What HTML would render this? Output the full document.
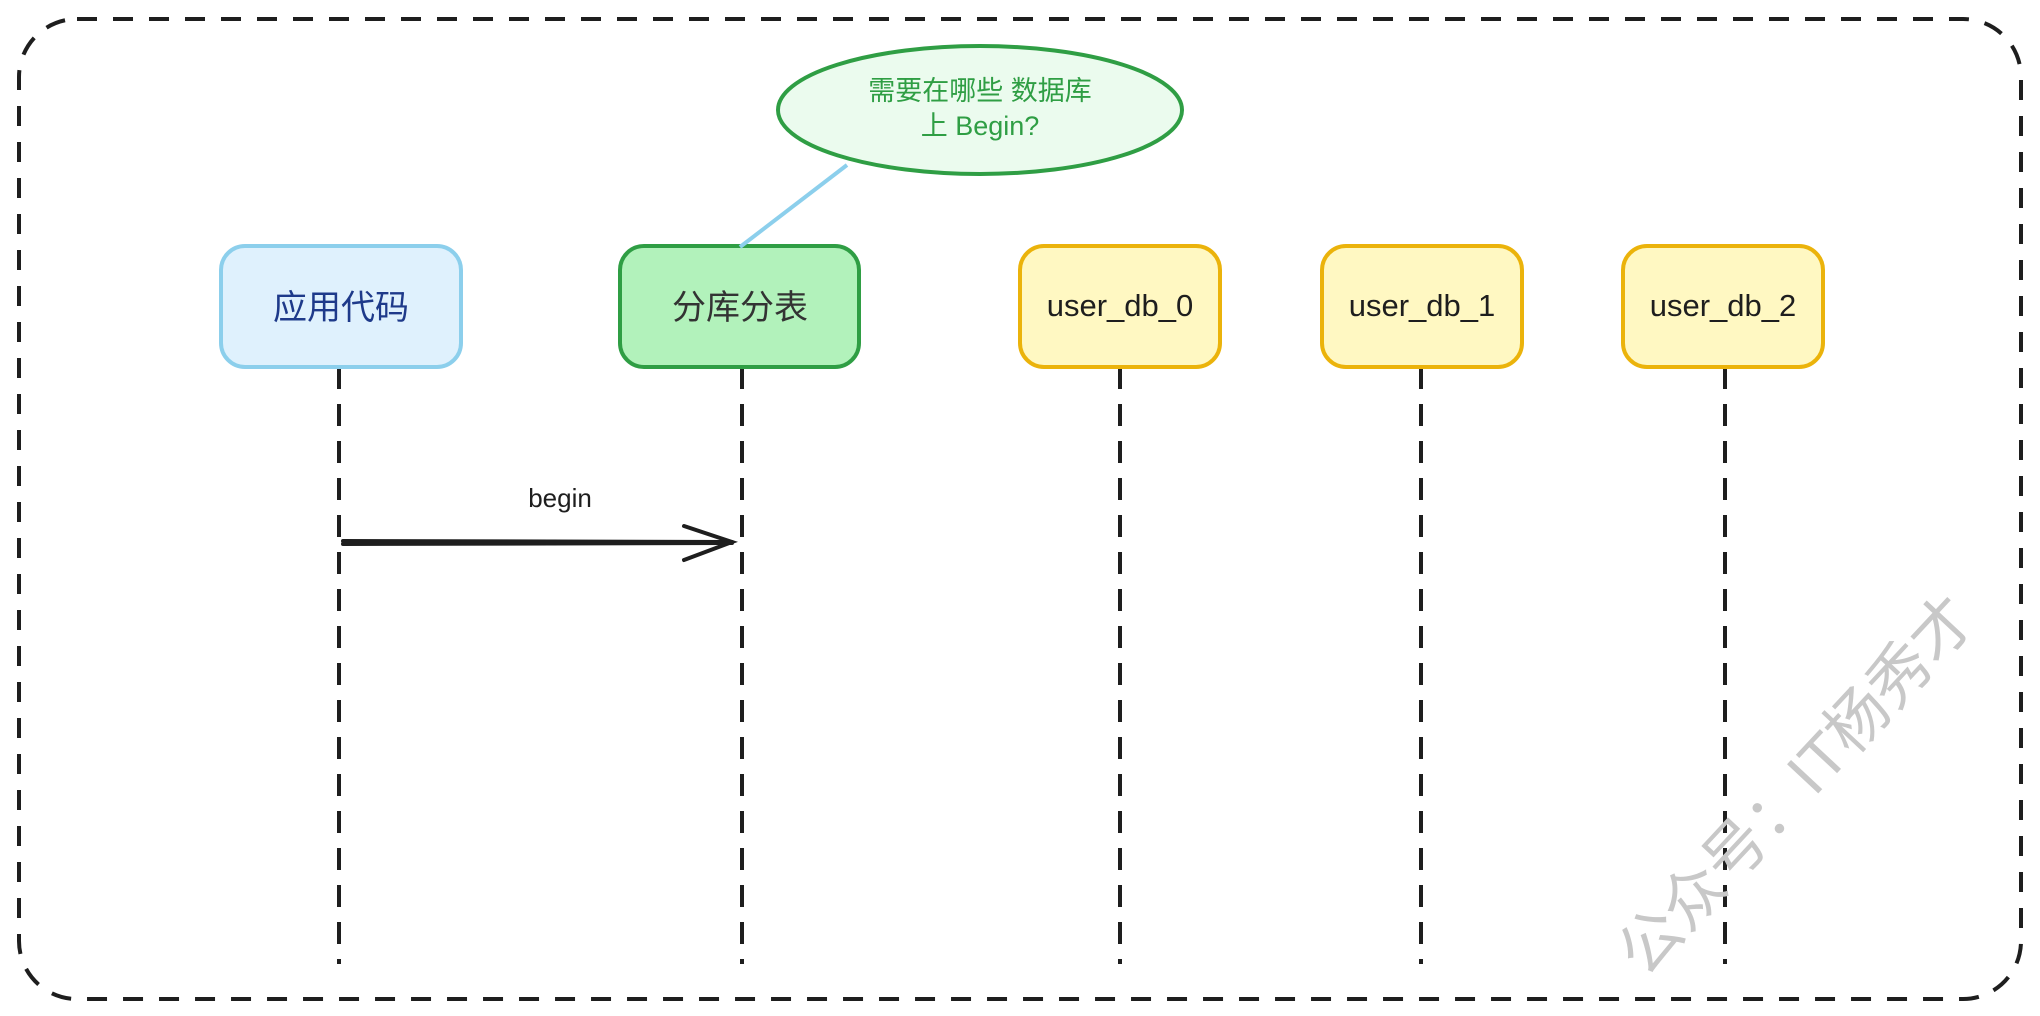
<!DOCTYPE html>
<html><head><meta charset="utf-8"><style>
html,body{margin:0;padding:0;background:#fff;}
svg{display:block;}
text{font-family:"Liberation Sans","Noto Sans CJK SC",sans-serif;}
</style></head><body>
<svg width="2040" height="1016" viewBox="0 0 2040 1016" xmlns="http://www.w3.org/2000/svg">
<rect x="19" y="19" width="2002" height="980" rx="58" fill="none" stroke="#1e1e1e" stroke-width="4" stroke-dasharray="20 16"/>
<g stroke="#1e1e1e" stroke-width="4" stroke-dasharray="22 15" fill="none">
<line x1="339" y1="367" x2="339" y2="964"/>
<line x1="742" y1="367" x2="742" y2="964"/>
<line x1="1120" y1="367" x2="1120" y2="964"/>
<line x1="1421" y1="367" x2="1421" y2="964"/>
<line x1="1725" y1="367" x2="1725" y2="964"/>
</g>
<rect x="221" y="246" width="240" height="121" rx="24" fill="#dff1fd" stroke="#8ccfec" stroke-width="4"/>
<text x="341" y="319" font-size="34" fill="#1e3a8a" text-anchor="middle">应用代码</text>
<rect x="620" y="246" width="239" height="121" rx="24" fill="#b2f2bb" stroke="#2f9e44" stroke-width="4"/>
<text x="740" y="319" font-size="34" fill="#333" text-anchor="middle">分库分表</text>
<rect x="1020" y="246" width="200" height="121" rx="24" fill="#fff8c2" stroke="#ebb30b" stroke-width="4"/>
<text x="1120" y="316" font-size="31" fill="#1e1e1e" text-anchor="middle">user_db_0</text>
<rect x="1322" y="246" width="200" height="121" rx="24" fill="#fff8c2" stroke="#ebb30b" stroke-width="4"/>
<text x="1422" y="316" font-size="31" fill="#1e1e1e" text-anchor="middle">user_db_1</text>
<rect x="1623" y="246" width="200" height="121" rx="24" fill="#fff8c2" stroke="#ebb30b" stroke-width="4"/>
<text x="1723" y="316" font-size="31" fill="#1e1e1e" text-anchor="middle">user_db_2</text>
<line x1="847" y1="165" x2="740" y2="247" stroke="#8ccfec" stroke-width="4"/>
<ellipse cx="980" cy="110" rx="202" ry="64" fill="#ebfbee" stroke="#2f9e44" stroke-width="4"/>
<text x="980" y="100" font-size="27" fill="#2f9e44" text-anchor="middle">需要在哪些 数据库</text>
<text x="980" y="135" font-size="27" fill="#2f9e44" text-anchor="middle">上 Begin?</text>
<g stroke="#1e1e1e" stroke-width="4" fill="none" stroke-linecap="round">
<line x1="343" y1="541" x2="732" y2="542"/>
<line x1="343" y1="544" x2="732" y2="543"/>
<polyline points="684,526 732,542 684,560"/>
</g>
<text x="560" y="507" font-size="26" fill="#1e1e1e" text-anchor="middle">begin</text>
<text x="0" y="0" font-size="62" fill="#c8c8c8" text-anchor="middle" transform="translate(1812,800) rotate(-47)">公众号：IT杨秀才</text>
</svg>
</body></html>
